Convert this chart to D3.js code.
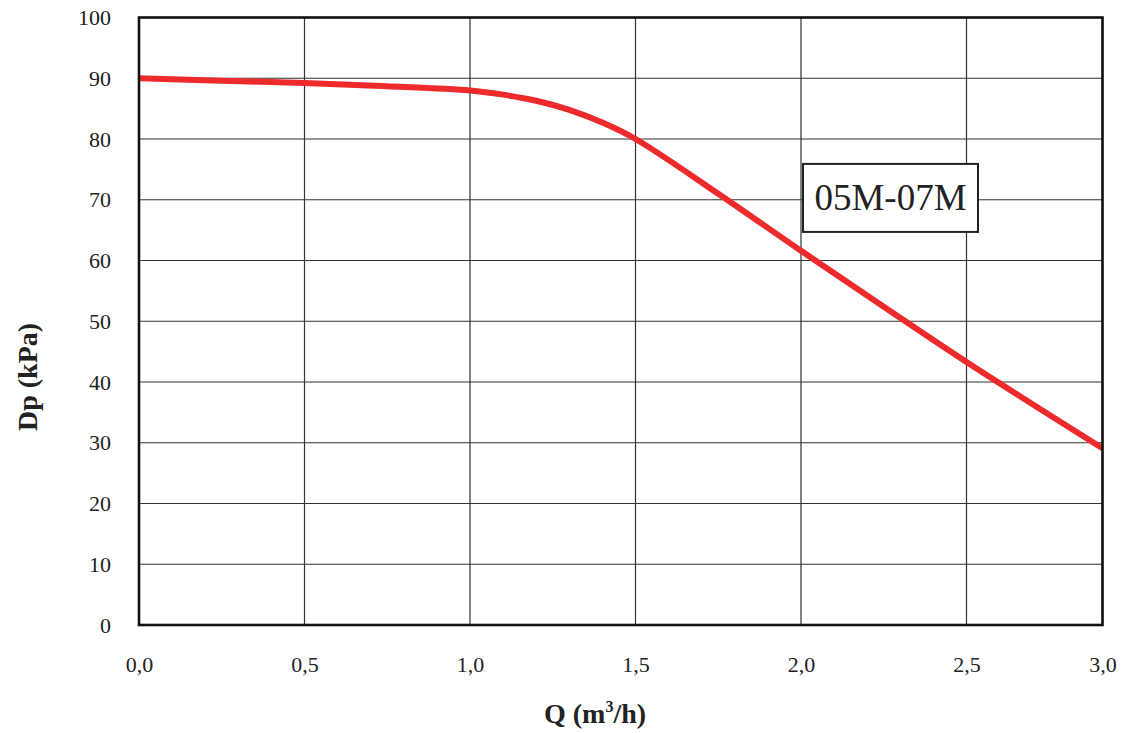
<!DOCTYPE html>
<html>
<head>
	<meta charset="utf-8">
	<style>
		body { margin: 0; background: #fff; }
		text { font-family: "Liberation Serif", "Times New Roman", serif; fill: #222; }
	</style>
</head>
<body>

	<div id="graph"></div>

	<script src="https://cdnjs.cloudflare.com/ajax/libs/d3/7.8.5/d3.min.js"></script>

	<script>
		// pump curve
		const flow = [0, 0.25, 0.5, 0.75, 1.0, 1.1, 1.2, 1.3, 1.4, 1.5, 1.75, 2.0, 2.25, 2.5, 3.0];
		const pressure = [90.0, 89.6, 89.2, 88.7, 88.0, 87.3, 86.3, 84.8, 82.7, 80.0, 71.0, 61.6, 52.4, 43.3, 29.1];

		const xTicks = [0, 0.5, 1.0, 1.5, 2.0, 2.5, 3.0];
		const yTicks = [0, 10, 20, 30, 40, 50, 60, 70, 80, 90, 100];

		const seriesLabel = '05M-07M';

		const W = 1123;
		const H = 733;
		const margin = { left: 139, top: 17.5, right: 20.5, bottom: 108 };
		const w = W - margin.left - margin.right;
		const h = H - margin.top - margin.bottom;

		const svg = d3.select('#graph')
			.append('svg')
			.attr('width', W)
			.attr('height', H);

		const g = svg.append('g')
			.attr('transform', `translate(${margin.left}, ${margin.top})`);

		// the last interval (2.5 - 3.0) is drawn shorter in the original
		const x = d3.scaleLinear()
			.domain([0, 2.5, 3.0])
			.range([0, w * 827.5 / 963.5, w]);

		const y = d3.scaleLinear()
			.domain([0, 100])
			.range([h, 0]);

		// grid
		g.append('g')
			.selectAll('line')
			.data(xTicks)
			.join('line')
				.attr('x1', d => x(d)).attr('x2', d => x(d))
				.attr('y1', 0).attr('y2', h)
				.attr('stroke', '#333')
				.attr('stroke-width', 1.2);

		g.append('g')
			.selectAll('line')
			.data(yTicks)
			.join('line')
				.attr('x1', 0).attr('x2', w)
				.attr('y1', d => y(d)).attr('y2', d => y(d))
				.attr('stroke', '#333')
				.attr('stroke-width', 1.2);

		// axes (labels only)
		const xAxis = d3.axisBottom(x)
			.tickValues(xTicks)
			.tickSize(0)
			.tickFormat(d => d3.format('.1f')(d).replace('.', ','));

		const yAxis = d3.axisLeft(y)
			.tickValues(yTicks)
			.tickSize(0)
			.tickPadding(28);

		const gx = g.append('g').attr('transform', `translate(0, ${h})`).call(xAxis);
		const gy = g.append('g').call(yAxis);

		[gx, gy].forEach(a => {
			a.select('.domain').remove();
			a.selectAll('text')
				.style('font-family', '"Liberation Serif", serif')
				.style('font-size', '22px')
				.attr('fill', '#222');
		});
		gx.selectAll('text').attr('y', 47).attr('dy', 0);

		// curve
		g.append('clipPath').attr('id', 'clip')
			.append('rect').attr('width', w).attr('height', h);

		const line = d3.line()
			.x(d => x(d[0]))
			.y(d => y(d[1]))
			.curve(d3.curveCatmullRom.alpha(0.5));

		g.append('path')
			.attr('d', line(d3.zip(flow, pressure)))
			.attr('clip-path', 'url(#clip)')
			.attr('fill', 'none')
			.attr('stroke', '#ee2a2d')
			.attr('stroke-width', 6);

		// plot border
		g.append('rect')
			.attr('width', w)
			.attr('height', h)
			.attr('fill', 'none')
			.attr('stroke', '#111')
			.attr('stroke-width', 2.6);

		// series label box
		const box = g.append('g')
			.attr('transform', `translate(${x(2.0) + 2}, ${y(75.9)})`);

		box.append('rect')
			.attr('width', 175)
			.attr('height', 68)
			.attr('fill', '#fff')
			.attr('stroke', '#222')
			.attr('stroke-width', 2);

		box.append('text')
			.attr('x', 87.5)
			.attr('y', 46)
			.attr('text-anchor', 'middle')
			.style('font-size', '37px')
			.text(seriesLabel);

		// axis titles
		const xt = svg.append('text')
			.attr('x', 595)
			.attr('y', 723)
			.attr('text-anchor', 'middle')
			.style('font-size', '28px')
			.style('font-weight', 'bold');
		xt.append('tspan').text('Q (m');
		xt.append('tspan').attr('dy', -11).style('font-size', '16px').text('3');
		xt.append('tspan').attr('dy', 11).text('/h)');

		svg.append('text')
			.attr('transform', 'translate(37, 377) rotate(-90)')
			.attr('text-anchor', 'middle')
			.style('font-size', '28px')
			.style('font-weight', 'bold')
			.text('Dp (kPa)');

	</script>

</body>
</html>
